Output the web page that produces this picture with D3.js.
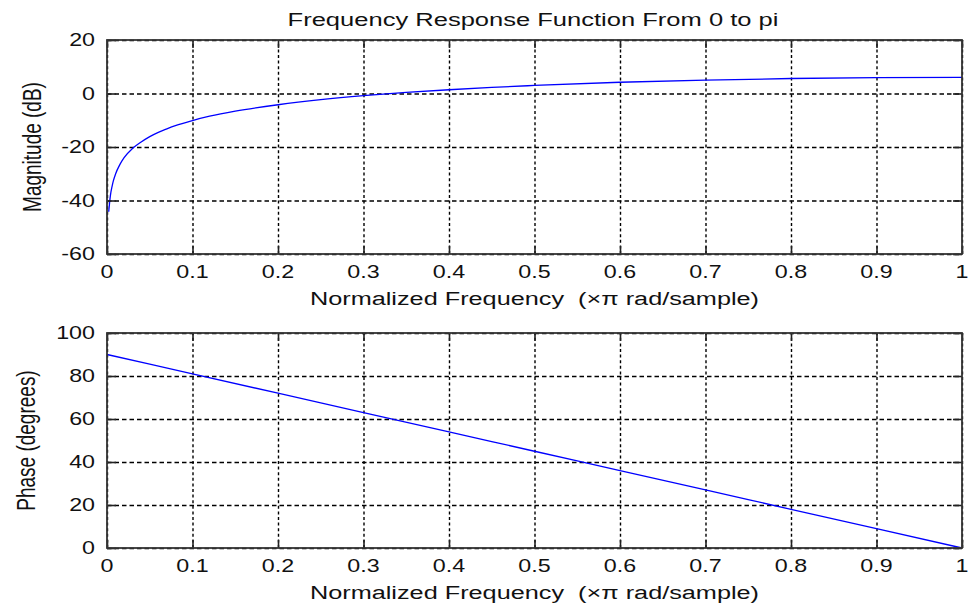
<!DOCTYPE html>
<html>
<head>
<meta charset="utf-8">
<script src="https://cdn.jsdelivr.net/npm/d3@7"></script>
<style>
  body { margin: 0; background: #fff; }
  text { font-family: "Liberation Sans", Arial, sans-serif; fill: #111; white-space: pre; }
</style>
</head>
<body>
<script>
// values
const magFreq = [0.002, 0.004, 0.006, 0.0075, 0.01, 0.015, 0.02, 0.03, 0.04, 0.05, 0.06, 0.07, 0.08, 0.1,
                 0.12, 0.15, 0.2, 0.25, 0.3, 0.35, 0.4, 0.45, 0.5, 0.6, 0.7, 0.8, 0.9, 1.0];
const magDb = [-44.2, -38.1, -34.6, -32.6, -30.1, -26.6, -24.0, -20.5, -18.1, -16.1, -14.5, -13.2, -12.0, -10.1,
               -8.5, -6.6, -4.2, -2.3, -0.8, 0.4, 1.4, 2.3, 3.0, 4.2, 5.0, 5.6, 5.9, 6.0];
const phaseFreq = [0, 0.1, 0.2, 0.3, 0.4, 0.5, 0.6, 0.7, 0.8, 0.9, 1.0];
const phaseDeg = [90, 81, 72, 63, 54, 45, 36, 27, 18, 9, 0];

const xTicks = [0, 0.1, 0.2, 0.3, 0.4, 0.5, 0.6, 0.7, 0.8, 0.9, 1];
const magTicks = [-60, -40, -20, 0, 20];
const phaseTicks = [0, 20, 40, 60, 80, 100];

const titleText = "Frequency Response Function From 0 to pi";
const xLabelText = "Normalized Frequency  (\u00d7\u03c0 rad/sample)";

const W = 970, H = 604;
const SX = 1.33; // the picture is stretched sideways, so is the text

const svg = d3.select("body").append("svg")
    .attr("width", W)
    .attr("height", H);

function label(x, y, txt, size, anchor, rotate) {
    svg.append("text")
        .attr("transform", `translate(${x},${y}) scale(${SX},1)` + (rotate ? " rotate(-90)" : ""))
        .attr("text-anchor", anchor)
        .attr("xml:space", "preserve")
        .style("font-size", size + "px")
        .text(txt);
}

function drawPanel(top, bottom, yDomain, yTicks, xs, ys, yLabel, yLabelX) {
    const left = 107, right = 962;
    const x = d3.scaleLinear().domain([0, 1]).range([left, right]);
    const y = d3.scaleLinear().domain(yDomain).range([bottom, top]);
    const g = svg.append("g");

    // grid
    g.append("g")
        .attr("transform", `translate(0,${bottom})`)
        .call(d3.axisBottom(x).tickValues(xTicks).tickSize(-(bottom - top)).tickFormat(""))
        .call(s => s.select(".domain").remove())
        .selectAll("line")
        .attr("stroke", "#000")
        .attr("stroke-width", 1.4)
        .attr("stroke-dasharray", "3,2.6");
    g.append("g")
        .attr("transform", `translate(${left},0)`)
        .call(d3.axisLeft(y).tickValues(yTicks).tickSize(-(right - left)).tickFormat(""))
        .call(s => s.select(".domain").remove())
        .selectAll("line")
        .attr("stroke", "#000")
        .attr("stroke-width", 1.4)
        .attr("stroke-dasharray", "4.5,3");

    // curve
    const pts = xs.map((d, i) => [d, ys[i]]);
    g.append("path")
        .datum(pts)
        .attr("fill", "none")
        .attr("stroke", "#0000ff")
        .attr("stroke-width", 1.3)
        .attr("d", d3.line().x(d => x(d[0])).y(d => y(d[1])).curve(d3.curveMonotoneX));

    // inward tick marks on all four sides
    const tickStyle = s => {
        s.select(".domain").remove();
        s.selectAll("line").attr("stroke", "#222").attr("stroke-width", 1.6);
        s.selectAll("text").remove();
    };
    g.append("g").attr("transform", `translate(0,${bottom})`)
        .call(d3.axisBottom(x).tickValues(xTicks).tickSize(-8)).call(tickStyle);
    g.append("g").attr("transform", `translate(0,${top})`)
        .call(d3.axisTop(x).tickValues(xTicks).tickSize(-8)).call(tickStyle);
    g.append("g").attr("transform", `translate(${left},0)`)
        .call(d3.axisLeft(y).tickValues(yTicks).tickSize(-9)).call(tickStyle);
    g.append("g").attr("transform", `translate(${right},0)`)
        .call(d3.axisRight(y).tickValues(yTicks).tickSize(-9)).call(tickStyle);

    // box
    g.append("rect")
        .attr("x", left).attr("y", top)
        .attr("width", right - left).attr("height", bottom - top)
        .attr("fill", "none")
        .attr("stroke", "#333")
        .attr("stroke-width", 1.8);

    // tick labels
    xTicks.forEach(t => label(x(t), bottom + 24, String(t), 17.5, "middle"));
    yTicks.forEach(t => label(left - 12, y(t) + 6, String(t), 17.5, "end"));

    // axis labels
    label((left + right) / 2, bottom + 51, xLabelText, 19, "middle");
    label(yLabelX, (top + bottom) / 2, yLabel, 19, "middle", true);
}

drawPanel(40, 254, [-60, 20], magTicks, magFreq, magDb, "Magnitude (dB)", 41);
drawPanel(333, 548, [0, 100], phaseTicks, phaseFreq, phaseDeg, "Phase (degrees)", 35);

label(533, 26, titleText, 19.2, "middle");
</script>
</body>
</html>
